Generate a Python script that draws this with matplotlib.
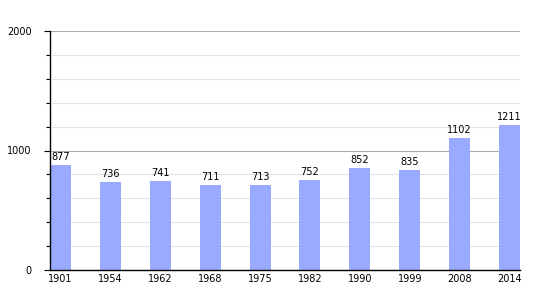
import matplotlib.pyplot as plt
from matplotlib.ticker import MultipleLocator

# data
years = ['1901', '1954', '1962', '1968', '1975', '1982', '1990', '1999', '2008', '2014']
population = [877, 736, 741, 711, 713, 752, 852, 835, 1102, 1211]

fig = plt.figure(figsize=(5.5, 3), dpi=100)
ax = fig.add_axes([50/550, 30/300, 470/550, 239/300])

x = range(len(years))
w = 0.42
bars = ax.bar(x, population, width=w, color='#99aaff', zorder=2)

for xi, v in zip(x, population):
    ax.text(xi, v + 25, str(v), ha='center', va='bottom', fontsize=7)

ax.set_xlim(-w/2, len(years) - 1 + w/2)
ax.set_ylim(0, 2000)
ax.set_xticks(list(x))
ax.set_xticklabels(years, fontsize=7)
ax.set_yticks([0, 1000, 2000])
ax.set_yticklabels(['0', '1000', '2000'], fontsize=7)
ax.yaxis.set_minor_locator(MultipleLocator(200))

ax.grid(axis='y', which='minor', color='#e2e2e2', lw=0.8, zorder=0)
ax.grid(axis='y', which='major', color='#aaaaaa', lw=0.8, zorder=0)

ax.tick_params(axis='x', length=0, pad=3)
ax.tick_params(axis='y', which='both', length=4, width=0.8, direction='out', pad=9)
ax.tick_params(axis='y', which='minor', length=3)

for s in ['top', 'right']:
    ax.spines[s].set_visible(False)
ax.spines['left'].set_linewidth(1)
ax.spines['bottom'].set_linewidth(1)

fig.savefig('out.png', dpi=100)
